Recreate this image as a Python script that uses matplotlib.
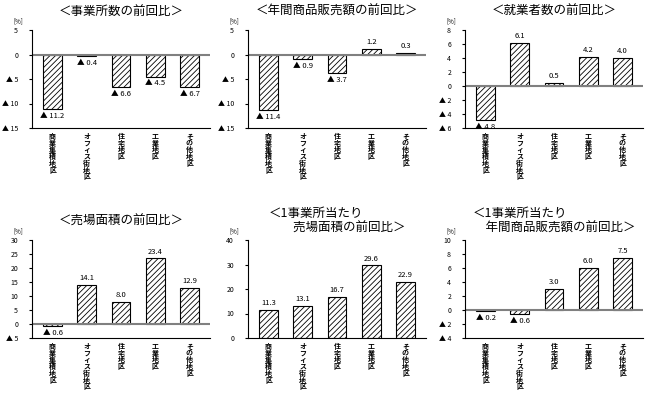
import matplotlib
matplotlib.use("Agg")
import matplotlib.pyplot as plt
plt.rcParams["font.family"] = "Noto Sans CJK JP"
plt.rcParams["hatch.linewidth"] = 0.6

categories = ["商業集積地区", "オフィス街地区", "住宅地区", "工業地区", "その他地区"]
titles = ["＜事業所数の前回比＞", "＜年間商品販売額の前回比＞", "＜就業者数の前回比＞",
          "＜売場面積の前回比＞", "＜1事業所当たり\n　　売場面積の前回比＞", "＜1事業所当たり\n　年間商品販売額の前回比＞"]
v1 = [-11.2, -0.4, -6.6, -4.5, -6.7]
v2 = [-11.4, -0.9, -3.7, 1.2, 0.3]
v3 = [-4.8, 6.1, 0.5, 4.2, 4.0]
v4 = [-0.6, 14.1, 8.0, 23.4, 12.9]
v5 = [11.3, 13.1, 16.7, 29.6, 22.9]
v6 = [-0.2, -0.6, 3.0, 6.0, 7.5]
series = [v1, v2, v3, v4, v5, v6]
ylims = [(-15, 5), (-15, 5), (-6, 8), (-5, 30), (0, 40), (-4, 10)]
steps = [5, 5, 2, 5, 10, 2]

W, H = 650, 409
fig = plt.figure(figsize=(6.5, 4.09), dpi=100)
xs = [32, 248, 465]
ys = [30, 240]
aw, ah = 178, 98
for i, (vals, title, (lo, hi), st) in enumerate(zip(series, titles, ylims, steps)):
    r, c = divmod(i, 3)
    ax = fig.add_axes([xs[c] / W, 1 - (ys[r] + ah) / H, aw / W, ah / H])
    x = range(len(vals))
    ax.bar(x, vals, width=0.55, color="white", edgecolor="black", hatch="//////", linewidth=0.8)
    ax.axhline(0, color="gray", lw=1.5 if lo < 0 else 0)
    ax.set_ylim(lo, hi)
    ax.set_xlim(-0.6, 4.6)
    ticks = list(range(lo, hi + 1, st))
    ax.set_yticks(ticks)
    ax.set_yticklabels([f"▲ {abs(t)}" if t < 0 else str(t) for t in ticks], fontsize=5)
    ax.set_xticks([])
    for s in ["top", "right"]:
        ax.spines[s].set_visible(False)
    off = (hi - lo) * 0.03
    for xi, v in zip(x, vals):
        if v < 0:
            ax.text(xi, v - off, f"▲ {abs(v):.1f}", ha="center", va="top", fontsize=5.5)
        else:
            ax.text(xi, v + off, f"{v:.1f}", ha="center", va="bottom", fontsize=5.5)
        ax.text(xi, lo - (hi - lo) * 0.05, "\n".join(categories[xi]), ha="center", va="top",
                fontsize=5, linespacing=0.95, fontweight="bold")
    ax.text(-0.08, 1.07, "[%]", transform=ax.transAxes, fontsize=4.5, ha="center")
    ax.tick_params(axis="y", length=2, pad=8)
    ax.set_title(title, fontsize=9, loc="center", pad=11 if "\n" not in title else 6,
                 ha="center", multialignment="left")
fig.savefig("out.png", dpi=100)
